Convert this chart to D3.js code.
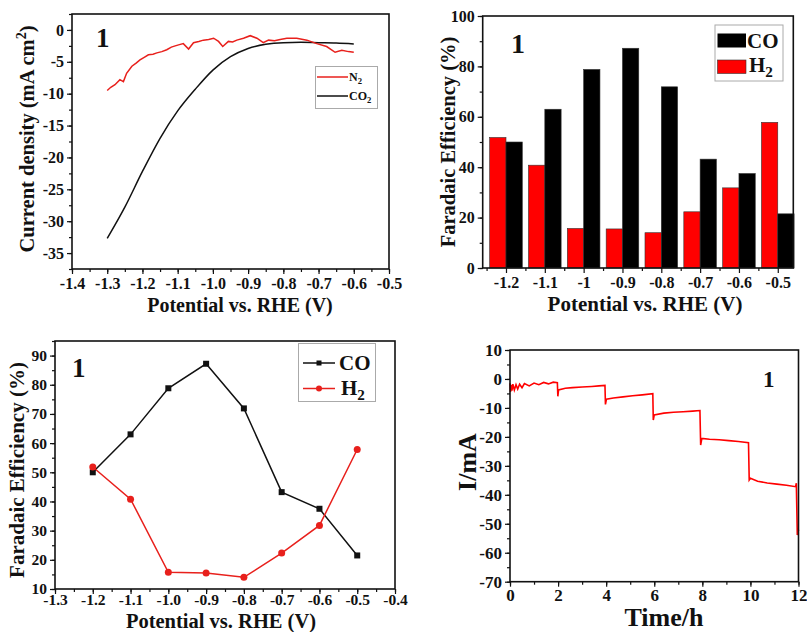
<!DOCTYPE html>
<html lang="en">
<head>
<meta charset="UTF-8">
<title>Sample 1 electrochemistry</title>
<script src="https://cdnjs.cloudflare.com/ajax/libs/d3/7.8.5/d3.min.js"></script>
<style>
body { margin: 0; background: #fff; }
svg text { font-family: "Liberation Serif", "Times New Roman", serif; font-weight: bold; fill: #111; }
.axis line { stroke: #111; stroke-width: 1.2px; }
</style>
</head>
<body>
<script>
// top left: LSV in N2 and CO2
var co2Potential = [-1.30, -1.25, -1.20, -1.15, -1.10, -1.05, -1.00, -0.95, -0.90, -0.85, -0.80, -0.75, -0.70, -0.65, -0.60];
var co2Current = [-32.7, -27.8, -22.2, -17.0, -12.7, -9.3, -6.3, -4.2, -2.9, -2.25, -2.0, -1.95, -2.0, -2.05, -2.2];
var n2Potential = [-1.300, -1.290, -1.278, -1.264, -1.254, -1.245, -1.230, -1.218, -1.207, -1.195, -1.183, -1.170,
    -1.159, -1.145, -1.131, -1.118, -1.107, -1.095, -1.084, -1.069, -1.055, -1.040, -1.027, -1.012, -0.998, -0.984,
    -0.972, -0.956, -0.944, -0.932, -0.913, -0.894, -0.875, -0.857, -0.842, -0.825, -0.809, -0.790, -0.762, -0.733,
    -0.705, -0.677, -0.653, -0.634, -0.615, -0.600];
var n2Current = [-9.5, -9.0, -8.6, -7.8, -8.1, -6.8, -5.7, -5.2, -4.7, -4.3, -3.9, -3.8,
    -3.6, -3.4, -3.1, -2.7, -2.5, -2.3, -2.15, -3.0, -2.0, -1.8, -1.6, -1.5, -1.3, -1.8,
    -2.6, -1.8, -1.9, -1.6, -1.3, -0.9, -1.3, -2.0, -1.6, -1.7, -1.5, -1.3, -1.3, -1.6,
    -2.15, -2.6, -3.5, -3.2, -3.4, -3.5];

// faradaic efficiency (bars + lines)
var fePotential = [-1.2, -1.1, -1.0, -0.9, -0.8, -0.7, -0.6, -0.5];
var feCO = [50.0, 63.0, 78.8, 87.2, 71.9, 43.2, 37.5, 21.5];
var feH2 = [51.8, 40.8, 15.7, 15.5, 14.0, 22.3, 31.8, 57.8];

// bottom right: i-t at stepped potentials
var timeH = [0, 0.02, 0.05, 0.08, 0.12, 0.18, 0.25, 0.32, 0.4, 0.5, 0.6, 0.8, 1.0, 1.2, 1.4, 1.6, 1.8, 1.97,
    1.99, 2.02, 2.3, 2.6, 3.0, 3.4, 3.7, 3.95,
    3.97, 4.01, 4.3, 4.7, 5.1, 5.5, 5.94,
    5.96, 6.0, 6.4, 6.8, 7.2, 7.6, 7.9,
    7.93, 7.98, 8.3, 8.7, 9.1, 9.5, 9.92,
    9.95, 10.0, 10.3, 10.7, 11.1, 11.5, 11.88, 11.91,
    11.95, 11.98, 12];
var currentMA = [-1.5, -4.5, -2.0, -4.0, -1.8, -3.8, -2.0, -3.5, -1.8, -3.0, -1.6, -2.4, -1.4, -2.0, -1.2, -1.7, -1.1, -1.3,
    -6.0, -3.8, -3.2, -3.0, -2.8, -2.6, -2.4, -2.2,
    -8.8, -7.0, -6.6, -6.2, -5.8, -5.5, -5.1,
    -14.2, -12.4, -11.8, -11.5, -11.3, -11.1, -10.9,
    -22.8, -20.5, -20.8, -21.0, -21.3, -21.6, -22.0,
    -34.9, -34.3, -35.3, -35.9, -36.3, -36.7, -37.2, -36.0,
    -53.9, -51.5, -52.5];

var svg = d3.select("body").append("svg")
    .attr("width", 807)
    .attr("height", 632);

function frame(x, y, xMaj, xMin, yMaj, yMin, fs, xf, yf, xPad) {
    var g = svg.append("g");
    var yb = y.range()[0], yt = y.range()[1], xl = x.range()[0], xr = x.range()[1];

    var bx = g.append("g").attr("class", "axis").attr("transform", "translate(0," + yb + ")");
    bx.call(d3.axisBottom(x).tickValues(xMin).tickSize(3).tickFormat(""));
    bx.append("g").call(d3.axisBottom(x).tickValues(xMaj).tickSize(5).tickPadding(xPad).tickFormat(xf));

    var ly = g.append("g").attr("class", "axis").attr("transform", "translate(" + xl + ",0)");
    ly.call(d3.axisLeft(y).tickValues(yMin).tickSize(3).tickFormat(""));
    ly.append("g").call(d3.axisLeft(y).tickValues(yMaj).tickSize(5).tickPadding(3).tickFormat(yf));

    g.selectAll(".domain").remove();
    g.selectAll("text")
        .style("font-family", "'Liberation Serif', 'Times New Roman', serif")
        .style("font-weight", "bold")
        .style("fill", "#111")
        .style("font-size", fs + "px");

    g.append("rect")
        .attr("x", xl).attr("y", yt)
        .attr("width", xr - xl).attr("height", yb - yt)
        .attr("fill", "none")
        .attr("stroke", "#111")
        .attr("stroke-width", 1.6);
    return g;
}

function num(v) { return String(+v.toFixed(1)); }
function fix1(v) { return v.toFixed(1); }

function yLabel(x, y, fs, txt) {
    return svg.append("text")
        .attr("transform", "translate(" + x + "," + y + ") rotate(-90)")
        .attr("text-anchor", "middle")
        .style("font-size", fs + "px")
        .text(txt);
}
function xLabel(x, y, fs, txt) {
    return svg.append("text")
        .attr("x", x).attr("y", y)
        .attr("text-anchor", "middle")
        .style("font-size", fs + "px")
        .text(txt);
}
function subText(g, x, y, fs, main, sub) {
    var t = g.append("text").attr("x", x).attr("y", y).style("font-size", fs + "px").text(main);
    t.append("tspan").attr("dy", fs * 0.25).style("font-size", (fs * 0.72) + "px").text(sub);
    return t;
}

// ---------- panel 1 ----------
var x1 = d3.scaleLinear().domain([-1.4, -0.5]).range([72, 389]);
var y1 = d3.scaleLinear().domain([-37.5, 2.5]).range([269, 14]);

svg.append("path")
    .datum(d3.range(co2Potential.length))
    .attr("fill", "none")
    .attr("stroke", "#111")
    .attr("stroke-width", 1.5)
    .attr("d", d3.line()
        .x(function(i) { return x1(co2Potential[i]); })
        .y(function(i) { return y1(co2Current[i]); })
        .curve(d3.curveMonotoneX));

svg.append("path")
    .datum(d3.range(n2Potential.length))
    .attr("fill", "none")
    .attr("stroke", "#e8201c")
    .attr("stroke-width", 1.5)
    .attr("d", d3.line()
        .x(function(i) { return x1(n2Potential[i]); })
        .y(function(i) { return y1(n2Current[i]); }));

frame(x1, y1,
    d3.range(-1.4, -0.49, 0.1), d3.range(-1.4, -0.49, 0.05),
    d3.range(-35, 0.1, 5), d3.range(-37.5, 2.6, 2.5),
    16, fix1, num, 4);

var lab1 = yLabel(34, 139, 20.5, "Current density (mA cm");
lab1.append("tspan").attr("dy", -8).style("font-size", "14px").text("2");
lab1.append("tspan").attr("dy", 8).text(")");
xLabel(240, 312, 20, "Potential vs. RHE (V)");
svg.append("text").attr("x", 96).attr("y", 47).style("font-size", "27px").text("1");

var leg1 = svg.append("g");
leg1.append("rect").attr("x", 315.5).attr("y", 66.5).attr("width", 62).attr("height", 42)
    .attr("fill", "#fff").attr("stroke", "#aaa").attr("stroke-width", 1);
leg1.append("line").attr("x1", 317).attr("x2", 348).attr("y1", 77).attr("y2", 77)
    .attr("stroke", "#e8201c").attr("stroke-width", 1.5);
leg1.append("line").attr("x1", 317).attr("x2", 348).attr("y1", 96).attr("y2", 96)
    .attr("stroke", "#111").attr("stroke-width", 1.5);
subText(leg1, 349, 81, 12, "N", "2");
subText(leg1, 349, 100, 12, "CO", "2");

// ---------- panel 2 ----------
var x2 = d3.scaleLinear().domain([-1.26, -0.46]).range([482.7, 793.3]);
var y2 = d3.scaleLinear().domain([0, 100]).range([268, 16]);
var bw = 0.042;

svg.append("g").selectAll("rect")
    .data(fePotential)
    .join("rect")
    .attr("x", function(d) { return x2(d - bw); })
    .attr("width", x2(bw) - x2(0))
    .attr("y", function(d, i) { return y2(feH2[i]); })
    .attr("height", function(d, i) { return y2(0) - y2(feH2[i]); })
    .attr("fill", "#ff0000")
    .attr("stroke", "#333")
    .attr("stroke-width", 0.6);

svg.append("g").selectAll("rect")
    .data(fePotential)
    .join("rect")
    .attr("x", function(d) { return x2(d); })
    .attr("width", x2(bw) - x2(0))
    .attr("y", function(d, i) { return y2(feCO[i]); })
    .attr("height", function(d, i) { return y2(0) - y2(feCO[i]); })
    .attr("fill", "#000")
    .attr("stroke", "#333")
    .attr("stroke-width", 0.6);

frame(x2, y2,
    fePotential, d3.range(-1.25, -0.45, 0.1),
    d3.range(0, 101, 20), d3.range(0, 101, 10),
    16, num, num, 4);

yLabel(455, 142, 20.5, "Faradaic Efficiency (%)");
xLabel(645, 311, 21, "Potential vs. RHE (V)");
svg.append("text").attr("x", 511).attr("y", 53).style("font-size", "28px").text("1");

var leg2 = svg.append("g");
leg2.append("rect").attr("x", 715).attr("y", 25).attr("width", 68).attr("height", 56)
    .attr("fill", "#fff").attr("stroke", "#aaa").attr("stroke-width", 1);
leg2.append("rect").attr("x", 717.5).attr("y", 33.5).attr("width", 28.5).attr("height", 14)
    .attr("fill", "#000");
leg2.append("rect").attr("x", 717.5).attr("y", 60).attr("width", 28.5).attr("height", 13.5)
    .attr("fill", "#ff0000").attr("stroke", "#333").attr("stroke-width", 0.6);
leg2.append("text").attr("x", 747).attr("y", 47.5).style("font-size", "21px").text("CO");
subText(leg2, 749, 72, 21, "H", "2");

// ---------- panel 3 ----------
var x3 = d3.scaleLinear().domain([-1.3, -0.4]).range([55, 395]);
var y3 = d3.scaleLinear().domain([10, 95]).range([589, 341]);

var line3 = function(vals) {
    return d3.line()
        .x(function(i) { return x3(fePotential[i]); })
        .y(function(i) { return y3(vals[i]); })(d3.range(fePotential.length));
};

svg.append("path").attr("d", line3(feCO))
    .attr("fill", "none").attr("stroke", "#111").attr("stroke-width", 1.5);
svg.append("path").attr("d", line3(feH2))
    .attr("fill", "none").attr("stroke", "#e8201c").attr("stroke-width", 1.5);

svg.append("g").selectAll("rect")
    .data(fePotential)
    .join("rect")
    .attr("x", function(d) { return x3(d) - 3; })
    .attr("y", function(d, i) { return y3(feCO[i]) - 3; })
    .attr("width", 6).attr("height", 6)
    .attr("fill", "#111");
svg.append("g").selectAll("circle")
    .data(fePotential)
    .join("circle")
    .attr("cx", function(d) { return x3(d); })
    .attr("cy", function(d, i) { return y3(feH2[i]); })
    .attr("r", 3.5)
    .attr("fill", "#e8201c");

frame(x3, y3,
    d3.range(-1.3, -0.39, 0.1), d3.range(-1.3, -0.39, 0.05),
    d3.range(10, 91, 10), d3.range(10, 96, 5),
    15.5, fix1, num, 0);

yLabel(24, 470, 21, "Faradaic Efficiency (%)");
xLabel(221, 627.5, 20.5, "Potential vs. RHE (V)");
svg.append("text").attr("x", 72).attr("y", 377).style("font-size", "27px").text("1");

var leg3 = svg.append("g");
leg3.append("rect").attr("x", 298.5).attr("y", 343.5).attr("width", 77).attr("height", 58)
    .attr("fill", "#fff").attr("stroke", "#aaa").attr("stroke-width", 1);
leg3.append("line").attr("x1", 303).attr("x2", 335).attr("y1", 363).attr("y2", 363)
    .attr("stroke", "#111").attr("stroke-width", 1.5);
leg3.append("rect").attr("x", 316.5).attr("y", 360.5).attr("width", 5).attr("height", 5).attr("fill", "#111");
leg3.append("line").attr("x1", 303).attr("x2", 335).attr("y1", 388.5).attr("y2", 388.5)
    .attr("stroke", "#e8201c").attr("stroke-width", 1.5);
leg3.append("circle").attr("cx", 319).attr("cy", 388.5).attr("r", 3).attr("fill", "#e8201c");
leg3.append("text").attr("x", 339).attr("y", 370).style("font-size", "21px").text("CO");
subText(leg3, 341, 395, 21, "H", "2");

// ---------- panel 4 ----------
var x4 = d3.scaleLinear().domain([0, 12]).range([510, 798.5]);
var y4 = d3.scaleLinear().domain([-70, 10]).range([581.7, 350]);

svg.append("path")
    .datum(d3.range(timeH.length))
    .attr("fill", "none")
    .attr("stroke", "#ff0000")
    .attr("stroke-width", 1.6)
    .attr("d", d3.line()
        .x(function(i) { return x4(timeH[i]); })
        .y(function(i) { return y4(currentMA[i]); }));

frame(x4, y4,
    d3.range(0, 12.1, 2), d3.range(0, 12.1, 1),
    d3.range(-70, 11, 10), d3.range(-70, 11, 5),
    17, num, num, 2);

yLabel(476, 462, 26, "I/mA");
xLabel(664, 626, 26, "Time/h");
svg.append("text").attr("x", 763).attr("y", 387).style("font-size", "23px").text("1");
</script>
</body>
</html>
